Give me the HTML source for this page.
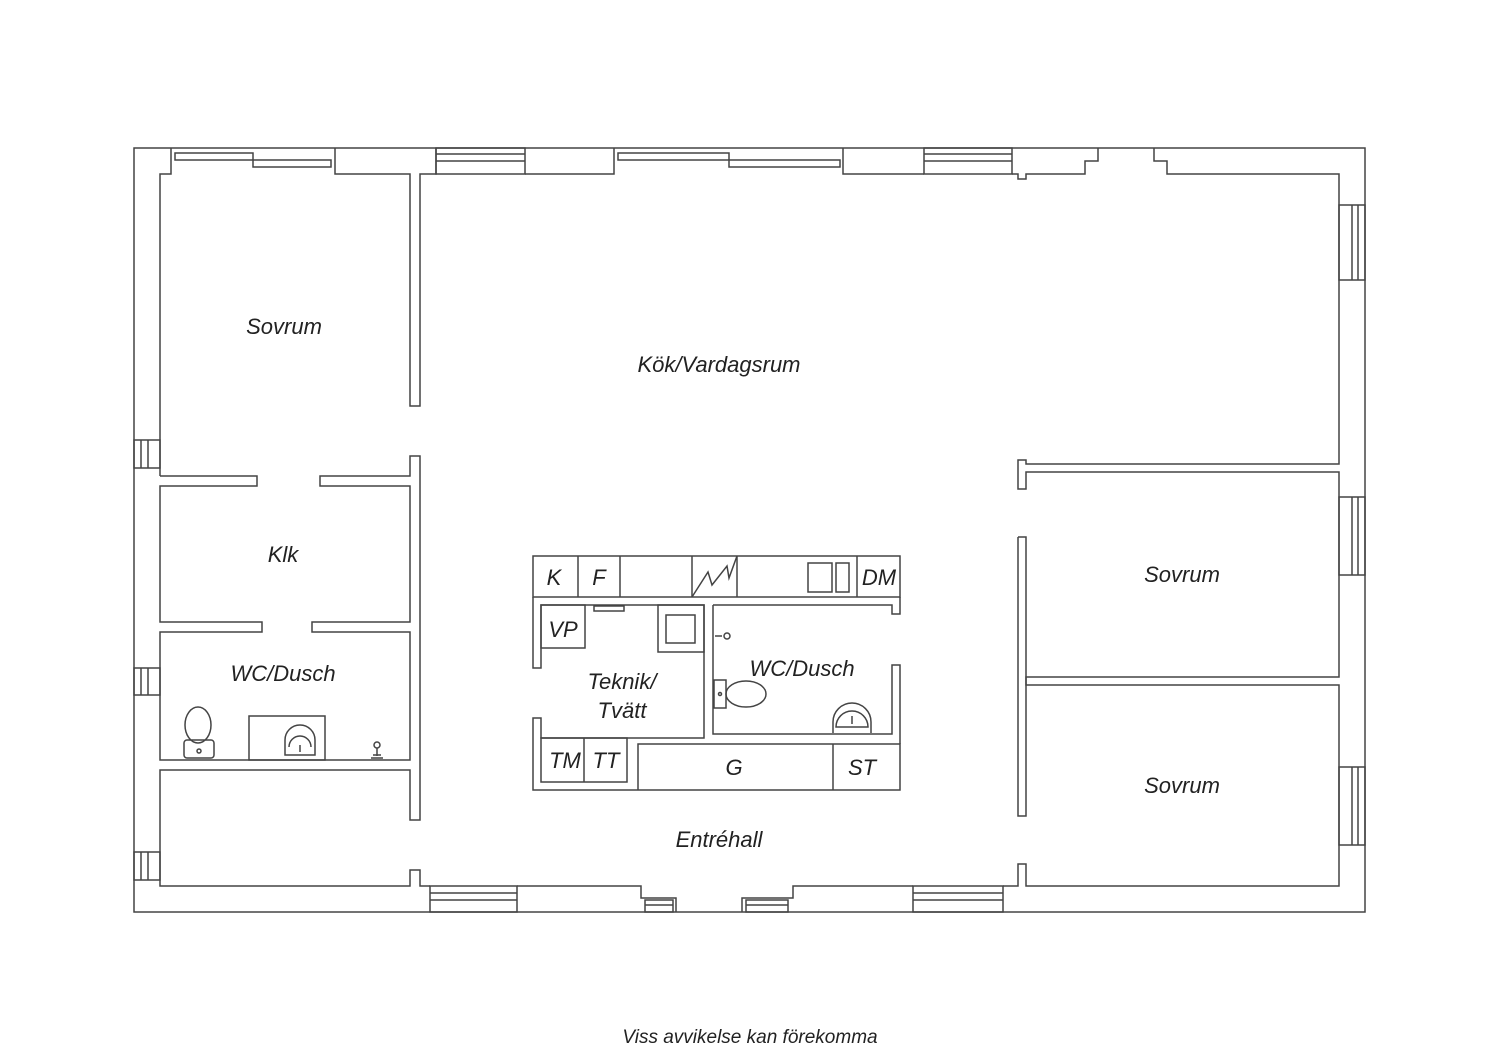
<!DOCTYPE html>
<html><head><meta charset="utf-8"><style>
html,body{margin:0;padding:0;background:#fff}
svg{display:block}
text{font-family:"Liberation Sans",sans-serif;font-style:italic;fill:#222}
</style></head><body>
<svg width="1500" height="1060" viewBox="0 0 1500 1060" xmlns="http://www.w3.org/2000/svg">
<g fill="none" stroke="#444" stroke-width="1.5">
<!-- outer -->
<rect x="134" y="148" width="1231" height="764"/>
<!-- top wall inner profile -->
<polyline points="160,476 160,174 171,174 171,148"/>
<rect x="175" y="153" width="78" height="7"/>
<rect x="253" y="160" width="78" height="7"/>
<polyline points="335,148 335,174 410,174 410,406 420,406 420,174 436,174 436,148"/>
<rect x="436" y="148" width="89" height="26"/>
<line x1="436" y1="154" x2="525" y2="154"/><line x1="436" y1="161" x2="525" y2="161"/>
<polyline points="525,174 614,174 614,148"/>
<rect x="618" y="153" width="111" height="7"/>
<rect x="729" y="160" width="111" height="7"/>
<polyline points="843,148 843,174 924,174"/>
<rect x="924" y="148" width="88" height="26"/>
<line x1="924" y1="154" x2="1012" y2="154"/><line x1="924" y1="161" x2="1012" y2="161"/>
<polyline points="1012,174 1018,174 1018,179 1026,179 1026,174 1085,174 1085,161 1098,161 1098,148"/>
<polyline points="1154,148 1154,161 1167,161 1167,174 1339,174 1339,464 1026,464 1026,460 1018,460 1018,489 1026,489 1026,472 1339,472 1339,677 1026,677 1026,685 1339,685 1339,886 1026,886 1026,864 1018,864 1018,886 1003,886"/>
<polyline points="1018,537 1026,537 1026,816 1018,816 1018,537"/>
<!-- right windows -->
<rect x="1339" y="205" width="26" height="75"/><line x1="1352" y1="205" x2="1352" y2="280"/><line x1="1358" y1="205" x2="1358" y2="280"/>
<rect x="1339" y="497" width="26" height="78"/><line x1="1352" y1="497" x2="1352" y2="575"/><line x1="1358" y1="497" x2="1358" y2="575"/>
<rect x="1339" y="767" width="26" height="78"/><line x1="1352" y1="767" x2="1352" y2="845"/><line x1="1358" y1="767" x2="1358" y2="845"/>
<!-- left windows -->
<rect x="134" y="440" width="26" height="28"/><line x1="141" y1="440" x2="141" y2="468"/><line x1="148" y1="440" x2="148" y2="468"/>
<rect x="134" y="668" width="26" height="27"/><line x1="141" y1="668" x2="141" y2="695"/><line x1="148" y1="668" x2="148" y2="695"/>
<rect x="134" y="852" width="26" height="28"/><line x1="141" y1="852" x2="141" y2="880"/><line x1="148" y1="852" x2="148" y2="880"/>
<!-- left rooms -->
<polyline points="160,476 257,476 257,486 160,486 160,622 262,622 262,632 160,632 160,760 410,760 410,632 312,632 312,622 410,622 410,486 320,486 320,476 410,476 410,456 420,456 420,820 410,820 410,770 160,770 160,886 410,886 410,870 420,870 420,886 430,886"/>
<!-- bottom -->
<rect x="430" y="886" width="87" height="26"/><line x1="430" y1="893" x2="517" y2="893"/><line x1="430" y1="900" x2="517" y2="900"/>
<polyline points="517,886 641,886 641,898 676,898 676,912"/>
<rect x="645" y="900" width="28" height="12"/><line x1="645" y1="905" x2="673" y2="905"/>
<polyline points="742,912 742,898 793,898 793,886 913,886"/>
<rect x="746" y="900" width="42" height="12"/><line x1="746" y1="905" x2="788" y2="905"/>
<rect x="913" y="886" width="90" height="26"/><line x1="913" y1="893" x2="1003" y2="893"/><line x1="913" y1="900" x2="1003" y2="900"/>
<!-- WC left fixtures -->
<rect x="249" y="716" width="76" height="44"/>
<path d="M285,755 L285,740 A15,15 0 0 1 315,740 L315,755 Z"/>
<path d="M289,747 A11,11 0 0 1 311,747"/><line x1="300" y1="745" x2="300" y2="752"/>
<ellipse cx="198" cy="725" rx="13" ry="18"/>
<rect x="184" y="740" width="30" height="18" rx="3"/><circle cx="199" cy="751" r="2"/>
<circle cx="377" cy="745" r="3"/><path d="M377,748 L377,756 M371,758 L383,758 M373,755 L381,755"/>
<!-- center block -->
<rect x="533" y="556" width="367" height="41"/>
<line x1="578" y1="556" x2="578" y2="597"/><line x1="620" y1="556" x2="620" y2="597"/><line x1="692" y1="556" x2="692" y2="597"/><line x1="737" y1="556" x2="737" y2="597"/><line x1="857" y1="556" x2="857" y2="597"/>
<polyline points="692,597 708,572 712,585 727,566 729,578 737,556"/>
<rect x="808" y="563" width="24" height="29"/><rect x="836" y="563" width="13" height="29"/>
<polyline points="533,597 533,668 541,668 541,605 704,605 704,738 541,738 541,718 533,718 533,790 900,790 900,744 638,744 638,790"/>
<rect x="541" y="605" width="44" height="43"/>
<rect x="658" y="605" width="46" height="47"/><rect x="666" y="615" width="29" height="28"/>
<rect x="594" y="606" width="30" height="5"/>
<polyline points="713,605 713,734 892,734 892,665 900,665 900,744"/>
<polyline points="713,605 892,605 892,614 900,614 900,597"/>
<line x1="833" y1="744" x2="833" y2="790"/>
<rect x="541" y="738" width="86" height="44"/><line x1="584" y1="738" x2="584" y2="782"/>
<path d="M833,733 L833,722 A19,19 0 0 1 871,722 L871,733"/>
<path d="M836,727 A15,15 0 0 1 868,727 Z"/><line x1="852" y1="716" x2="852" y2="724"/>
<rect x="714" y="680" width="12" height="28"/><ellipse cx="746" cy="694" rx="20" ry="13"/><circle cx="720" cy="694" r="1.5"/>
<line x1="715" y1="636" x2="722" y2="636"/><circle cx="727" cy="636" r="3"/>
</g>
<g font-size="22" text-anchor="middle">
<text x="284" y="334">Sovrum</text>
<text x="719" y="372">Kök/Vardagsrum</text>
<text x="283" y="562">Klk</text>
<text x="283" y="681">WC/Dusch</text>
<text x="1182" y="582">Sovrum</text>
<text x="1182" y="793">Sovrum</text>
<text x="719" y="847">Entréhall</text>
<text x="622" y="689">Teknik/</text>
<text x="622" y="718">Tvätt</text>
<text x="802" y="676">WC/Dusch</text>
<text x="554" y="585">K</text>
<text x="599" y="585">F</text>
<text x="879" y="585">DM</text>
<text x="563" y="637">VP</text>
<text x="565" y="768">TM</text>
<text x="606" y="768">TT</text>
<text x="734" y="775">G</text>
<text x="862" y="775">ST</text>
</g>
<text x="750" y="1043" font-size="19" text-anchor="middle">Viss avvikelse kan förekomma</text>
</svg>
</body></html>
